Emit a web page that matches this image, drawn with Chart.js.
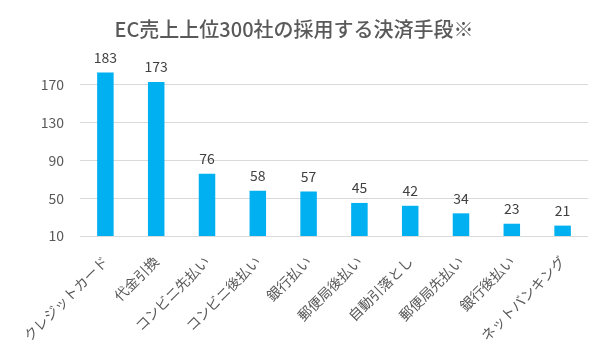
<!DOCTYPE html>
<html>
<head>
<meta charset="utf-8">
<script src="https://cdn.jsdelivr.net/npm/chart.js@4"></script>
<style>
  html, body { margin: 0; padding: 0; background: #fff; }
  #wrap { width: 604px; height: 352px; }
</style>
</head>
<body>
<div id="wrap"><canvas id="chart" width="604" height="352"></canvas></div>
<script>
const categories = ['クレジットカード', '代金引換', 'コンビニ先払い', 'コンビニ後払い', '銀行払い', '郵便局後払い', '自動引落とし', '郵便局先払い', '銀行後払い', 'ネットバンキング'];
const companies = [183, 173, 76, 58, 57, 45, 42, 34, 23, 21];
const yTicks = [10, 50, 90, 130, 170];

const FONT = "'Noto Sans CJK JP', 'Noto Sans', sans-serif";
const TEXT = '#595959';

// value labels above each bar
const barLabels = {
  id: 'barLabels',
  afterDatasetsDraw(chart) {
    const ctx = chart.ctx;
    const meta = chart.getDatasetMeta(0);
    ctx.save();
    ctx.font = '14px ' + FONT;
    ctx.fillStyle = '#404040';
    ctx.textAlign = 'center';
    ctx.textBaseline = 'bottom';
    meta.data.forEach((bar, i) => {
      ctx.fillText(companies[i], bar.x, bar.y - 8);
    });
    ctx.restore();
  }
};

new Chart(document.getElementById('chart'), {
  type: 'bar',
  data: {
    labels: categories,
    datasets: [{
      data: companies,
      backgroundColor: '#00b0f0',
      borderWidth: 0,
      barPercentage: 0.65,
      categoryPercentage: 0.5
    }]
  },
  options: {
    responsive: false,
    animation: false,
    layout: { padding: { left: 0, right: 16, top: 0, bottom: 0 } },
    plugins: {
      legend: { display: false },
      tooltip: { enabled: false },
      title: {
        display: true,
        text: 'EC売上上位300社の採用する決済手段※',
        color: TEXT,
        font: { family: FONT, size: 20, weight: 500 },
        padding: { top: 17, bottom: 25 }
      }
    },
    scales: {
      x: {
        afterFit: (scale) => { scale.height = 116; },
        grid: { display: false },
        border: { display: false },
        ticks: {
          color: TEXT,
          font: { family: FONT, size: 14 },
          maxRotation: 45,
          minRotation: 45,
          padding: 9
        }
      },
      y: {
        min: 10,
        max: 190,
        afterBuildTicks: (scale) => { scale.ticks = yTicks.map(v => ({ value: v })); },
        afterFit: (scale) => { scale.width = 80; },
        grid: { color: '#d9d9d9', lineWidth: 1, drawTicks: false },
        border: { display: false },
        ticks: {
          color: TEXT,
          font: { family: FONT, size: 14 },
          padding: 16
        }
      }
    }
  },
  plugins: [barLabels]
});
</script>
</body>
</html>
